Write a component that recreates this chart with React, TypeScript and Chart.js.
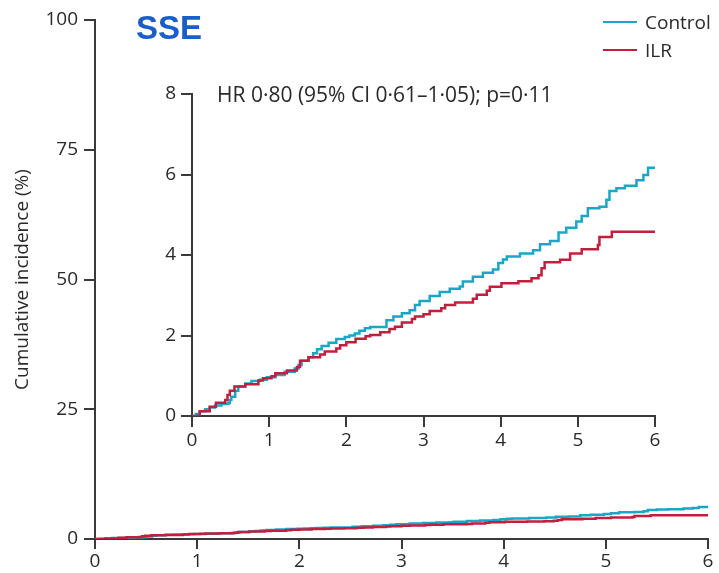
import React, { useEffect, useRef } from "react";
import { Chart, registerables } from "chart.js";

Chart.register(...registerables);

// ---- Data (cumulative incidence, %) ----
const controlTime = [0, 0.05, 0.1, 0.17, 0.23, 0.3, 0.38, 0.47, 0.49, 0.51, 0.56, 0.6, 0.69, 0.77, 0.88, 0.97, 1.08, 1.2, 1.33, 1.38, 1.42, 1.51, 1.57, 1.62, 1.68, 1.77, 1.87, 1.98, 2.04, 2.11, 2.17, 2.24, 2.31, 2.52, 2.61, 2.72, 2.82, 2.89, 2.95, 3.08, 3.21, 3.34, 3.47, 3.51, 3.64, 3.77, 3.9, 3.97, 4.03, 4.08, 4.25, 4.42, 4.51, 4.64, 4.75, 4.85, 4.98, 5.05, 5.13, 5.28, 5.37, 5.41, 5.5, 5.61, 5.76, 5.85, 5.91, 6.0];
const controlValue = [0, 0.05, 0.12, 0.17, 0.21, 0.26, 0.3, 0.32, 0.4, 0.48, 0.63, 0.73, 0.81, 0.87, 0.9, 0.96, 1.02, 1.1, 1.18, 1.27, 1.37, 1.46, 1.56, 1.66, 1.74, 1.82, 1.91, 1.96, 2.0, 2.05, 2.12, 2.18, 2.21, 2.38, 2.47, 2.55, 2.63, 2.76, 2.86, 2.98, 3.08, 3.16, 3.22, 3.34, 3.46, 3.56, 3.64, 3.8, 3.89, 3.96, 4.04, 4.12, 4.27, 4.35, 4.56, 4.68, 4.83, 4.97, 5.16, 5.2, 5.37, 5.59, 5.66, 5.72, 5.86, 5.99, 6.17, 6.17];

const ilrTime = [0, 0.1, 0.23, 0.31, 0.43, 0.46, 0.49, 0.55, 0.69, 0.86, 0.92, 1.03, 1.08, 1.23, 1.36, 1.4, 1.51, 1.66, 1.72, 1.87, 1.92, 2.0, 2.12, 2.25, 2.31, 2.44, 2.56, 2.63, 2.72, 2.85, 2.89, 3.0, 3.08, 3.23, 3.28, 3.41, 3.64, 3.69, 3.82, 3.86, 4.01, 4.23, 4.4, 4.49, 4.53, 4.57, 4.77, 4.9, 5.05, 5.26, 5.28, 5.44, 6.0];
const ilrValue = [0, 0.12, 0.23, 0.33, 0.4, 0.52, 0.63, 0.73, 0.79, 0.88, 0.94, 0.99, 1.06, 1.13, 1.22, 1.37, 1.46, 1.53, 1.6, 1.68, 1.76, 1.83, 1.92, 1.98, 2.01, 2.08, 2.16, 2.22, 2.32, 2.41, 2.47, 2.53, 2.61, 2.68, 2.76, 2.82, 2.91, 3.01, 3.11, 3.21, 3.3, 3.35, 3.42, 3.5, 3.67, 3.82, 3.88, 4.04, 4.14, 4.25, 4.45, 4.58, 4.58];

const xTicks = [0, 1, 2, 3, 4, 5, 6];
const mainYTicks = [0, 25, 50, 75, 100];
const insetYTicks = [0, 2, 4, 6, 8];

const seriesLabels = ["Control", "ILR"];
const titleText = "SSE";
const yTitleText = "Cumulative incidence (%)";
const hrText = "HR 0·80 (95% CI 0·61–1·05); p=0·11";

// ---- Styles ----
const CONTROL_COLOR = "#1aa7c6";
const ILR_COLOR = "#c21f3f";
const AXIS_COLOR = "#3a3a3a";
const TEXT_COLOR = "#2a2a2a";
const FONT = "'Open Sans', sans-serif";

function toPoints(t: number[], v: number[]) {
  return t.map((x, i) => ({ x, y: v[i] }));
}

function makeDatasets() {
  return [
    {
      label: seriesLabels[0],
      data: toPoints(controlTime, controlValue),
      borderColor: CONTROL_COLOR,
      backgroundColor: CONTROL_COLOR,
      borderWidth: 2.5,
      pointRadius: 0,
      stepped: "before" as const,
      fill: false,
      order: 1,
    },
    {
      label: seriesLabels[1],
      data: toPoints(ilrTime, ilrValue),
      borderColor: ILR_COLOR,
      backgroundColor: ILR_COLOR,
      borderWidth: 2.5,
      pointRadius: 0,
      stepped: "before" as const,
      fill: false,
      order: 0,
    },
  ];
}

function axis(
  ticksArr: number[],
  min: number,
  max: number,
  tickLength: number,
  padding: number,
  fit: (s: any) => void
) {
  return {
    type: "linear" as const,
    min,
    max,
    afterBuildTicks: (s: any) => {
      s.ticks = ticksArr.map((v) => ({ value: v }));
    },
    afterFit: fit,
    border: { display: true, color: AXIS_COLOR, width: 2 },
    grid: {
      display: true,
      drawOnChartArea: false,
      drawTicks: true,
      tickLength,
      color: AXIS_COLOR,
      lineWidth: 2,
    },
    ticks: {
      color: TEXT_COLOR,
      padding,
      autoSkip: false,
      maxRotation: 0,
      font: { family: FONT, size: 19 },
    },
  };
}

export default function App() {
  const mainRef = useRef<HTMLCanvasElement>(null);
  const insetRef = useRef<HTMLCanvasElement>(null);

  useEffect(() => {
    if (!mainRef.current || !insetRef.current) return;

    const yMain: any = axis(mainYTicks, 0, 100, 11, 6, (s: any) => {
      s.width = 95;
    });
    yMain.title = {
      display: true,
      text: yTitleText,
      color: TEXT_COLOR,
      font: { family: FONT, size: 19 },
      padding: { top: 11.5, bottom: 0 },
    };

    const main = new Chart(mainRef.current, {
      type: "line",
      data: { datasets: makeDatasets() as any },
      options: {
        responsive: false,
        animation: false,
        devicePixelRatio: 1,
        layout: { padding: { left: 0, top: 20, right: 11, bottom: 0 } },
        plugins: { legend: { display: false }, tooltip: { enabled: false } },
        scales: {
          x: axis(xTicks, 0, 6, 10, 1, (s: any) => {
            s.height = 34;
          }) as any,
          y: yMain,
        },
      },
    });

    const inset = new Chart(insetRef.current, {
      type: "line",
      data: { datasets: makeDatasets() as any },
      options: {
        responsive: false,
        animation: false,
        devicePixelRatio: 1,
        layout: { padding: { left: 0, top: 24, right: 45, bottom: 0 } },
        plugins: { legend: { display: false }, tooltip: { enabled: false } },
        scales: {
          x: axis(xTicks, 0, 6, 11, 2, (s: any) => {
            s.height = 54;
          }) as any,
          y: axis(insetYTicks, 0, 8, 11, 5, (s: any) => {
            s.width = 92;
          }) as any,
        },
      },
    });

    return () => {
      main.destroy();
      inset.destroy();
    };
  }, []);

  return (
    <div style={{ position: "absolute", left: 0, top: 0, width: 719, height: 573, background: "#fff" }}>
      <canvas ref={mainRef} width={719} height={573} style={{ position: "absolute", left: 0, top: 0 }} />
      <canvas ref={insetRef} width={600} height={400} style={{ position: "absolute", left: 100, top: 70 }} />
      <div
        style={{
          position: "absolute",
          left: 136,
          top: 12,
          fontFamily: "'Liberation Sans', Arial, sans-serif",
          fontWeight: 700,
          fontSize: 33,
          lineHeight: "32px",
          color: "#1a5fc9",
          whiteSpace: "nowrap",
        }}
      >
        {titleText}
      </div>
      <div
        style={{
          position: "absolute",
          left: 217,
          top: 84,
          fontFamily: FONT,
          fontSize: 21,
          lineHeight: "21px",
          color: TEXT_COLOR,
          whiteSpace: "nowrap",
        }}
      >
        {hrText}
      </div>
      {seriesLabels.map((lab, i) => (
        <div
          key={lab}
          style={{
            position: "absolute",
            left: 603,
            top: 12 + i * 28,
            height: 20,
            display: "flex",
            alignItems: "center",
            whiteSpace: "nowrap",
          }}
        >
          <span
            style={{
              display: "inline-block",
              width: 34,
              height: 2,
              background: i === 0 ? CONTROL_COLOR : ILR_COLOR,
              marginRight: 8,
            }}
          />
          <span style={{ fontFamily: FONT, fontSize: 19, lineHeight: "20px", color: TEXT_COLOR }}>{lab}</span>
        </div>
      ))}
    </div>
  );
}
